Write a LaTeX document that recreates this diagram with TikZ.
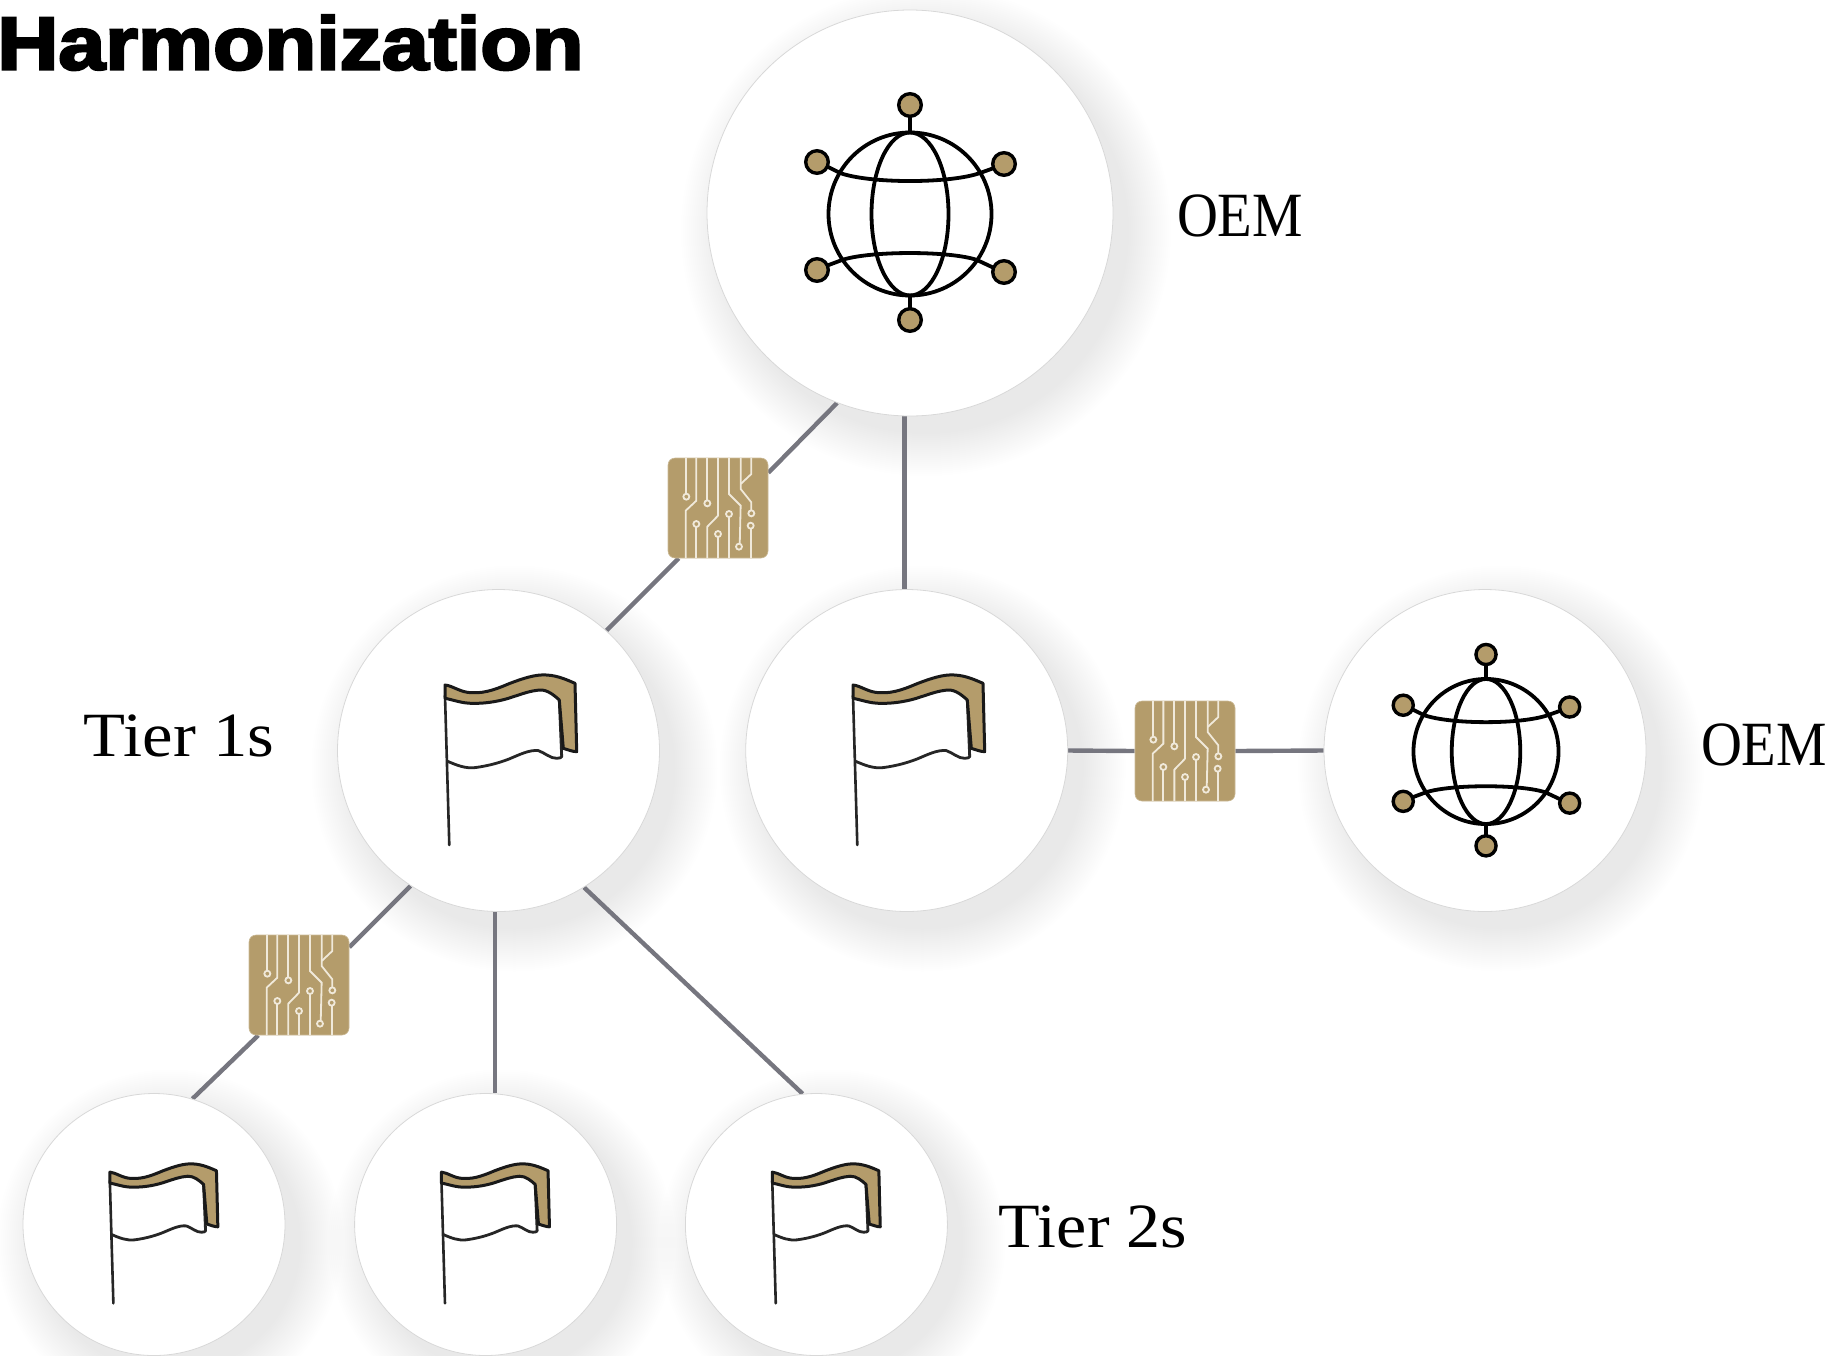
\documentclass[tikz,border=0pt]{standalone}
\usepackage{fontspec}
\setmainfont{Liberation Serif}
\newfontfamily\titlefont{Liberation Sans}[BoldFeatures={FakeBold=3.2}]
\pgfdeclarelayer{shadowlayer}
\pgfdeclarelayer{linelayer}
\pgfsetlayers{shadowlayer,linelayer,main}
\definecolor{tan1}{HTML}{B49C6B}
\definecolor{wire}{HTML}{76767F}
\definecolor{rimc}{HTML}{D8D8D8}
\definecolor{trace}{HTML}{F0E9DA}
\newcommand{\softshade}[3]{%
  \begin{pgfonlayer}{shadowlayer}
    \foreach \i in {1,...,22}{%
      \fill[black,opacity=.0055] ({#1+16},{#2+18}) circle ({#3+44-2*\i});
    }
  \end{pgfonlayer}}
\tikzset{
  disc/.style={circle,draw=rimc,line width=.4pt,fill=white,inner sep=0pt},
  bigdisc/.style={disc,minimum size=203pt},
  middisc/.style={disc,minimum size=161pt},
  smalldisc/.style={disc,minimum size=131pt},
  chipbox/.style={rectangle,rounded corners=3.5pt,fill=tan1,draw=tan1!70!white,line width=.3pt,minimum size=50pt,inner sep=0pt},
  wireline/.style={wire,line width=2.2pt},
  lbl/.style={inner sep=0pt,anchor=base,font=\fontsize{31.5}{36}\selectfont},
  flagicon/.pic={
    \draw[black!85,line width=1.3pt,line cap=round] (-57.5,-60) -- (-53.2,89.4);
    \draw[black!85,line width=1.4pt,line join=round] (-55.8,5.3)
      .. controls (-45,10) and (-37,13) .. (-27.5,12)
      .. controls (-12,10) and (0,6) .. (7.5,3)
      .. controls (17,-1) and (27,-6) .. (35.8,-5)
      .. controls (42,-3) and (48,3) .. (54.2,2.7)
      .. controls (57,2.7) and (59,2) .. (59.2,1)
      -- (56.8,-55.6);
    \draw[black!90,line width=1.5pt,fill=tan1,line join=round] (-57.5,-70.6)
      .. controls (-50,-70) and (-42,-63) .. (-30.8,-62.9)
      .. controls (-16,-62) and (-3,-68) .. (7.5,-72.3)
      .. controls (20,-77) and (33,-81.5) .. (44.2,-80.6)
      .. controls (56,-80) and (66,-75) .. (72.5,-72.3)
      -- (74.2,-3.9)
      .. controls (70,-4) and (65,-6) .. (60.8,-7.3)
      -- (56.8,-55.6)
      .. controls (52,-60) and (45,-66) .. (37.5,-65.6)
      .. controls (28,-65) and (19,-61.5) .. (10.8,-58.9)
      .. controls (0,-55) and (-15,-52) .. (-29.2,-52.3)
      .. controls (-40,-52) and (-50,-56) .. (-57.5,-57.3) -- cycle;
  },
  globeicon/.pic={
    \draw[black,line width=1.9pt] (0,-82) -- (0,-97) (0,81) -- (0,95)
      (-70,-41) -- (-84,-48) (70,-41) -- (84,-46)
      (-68,46) -- (-84,52) (67,46) -- (84,54);
    \foreach \nx/\ny in {0/-109,0/106,-93/-52,94/-50,-93/56,94/58}{
      \draw[black,line width=1.7pt,fill=tan1] (\nx,\ny) circle (11.3);
    }
    \draw[black,line width=1.9pt] (0,0) circle (81.5);
    \draw[black,line width=1.9pt] (0,0) ellipse (38.5 and 81.5);
    \draw[black,line width=1.9pt] (-70,-41) .. controls (-40,-30.3) and (40,-30.3) .. (70,-41);
    \draw[black,line width=1.9pt] (-68,46) .. controls (-40,36.7) and (40,36.7) .. (67,46);
  },
  chipicon/.pic={
    \begin{scope}[trace,line width=.9pt,scale=.3333]
      \draw (-95,-150) -- (-95,-34);
      \draw (-65,-150) -- (-65,-22) -- (-97,8) -- (-97,150);
      \draw (-32,-150) -- (-32,-14);
      \draw (0,-150) -- (0,23) -- (-32,56) -- (-32,150);
      \draw (33,-150) -- (33,-42) -- (68,-7) -- (65,116);
      \draw (68,-150) -- (68,-57) -- (100,-17) -- (100,16);
      \draw (68,-72) -- (100,-102) -- (100,-150);
      \draw (98,53) -- (98,150);
      \draw (-65,48) -- (-65,150);
      \draw (0,78) -- (0,150);
      \draw (33,18) -- (33,150);
      \foreach \cx/\cy in {-95/-34,-32/-14,100/16,98/53,-65/48,0/78,33/18,63/116}{
        \draw[fill=tan1] (\cx,\cy) circle (9);
      }
    \end{scope}
  }
}
\begin{document}
\begin{tikzpicture}[x=.5pt,y=-.5pt]
\useasboundingbox (0,0) rectangle (1840,1355);
\clip (0,0) rectangle (1840,1355);
\softshade{910}{213}{203}
\softshade{498.5}{750.5}{161}
\softshade{906.7}{750.5}{161}
\softshade{1485}{750.5}{161}
\softshade{154}{1224.5}{131}
\softshade{485.6}{1224.5}{131}
\softshade{816.4}{1224.5}{131}
\node[bigdisc] (top) at (910,213) {};
\node[middisc] (m1) at (498.5,750.5) {};
\node[middisc] (m2) at (906.7,750.5) {};
\node[middisc] (oemr) at (1485,750.5) {};
\node[smalldisc] (b1) at (154,1224.5) {};
\node[smalldisc] (b2) at (485.6,1224.5) {};
\node[smalldisc] (b3) at (816.4,1224.5) {};
\node[chipbox] (c1) at (718,508) {};
\node[chipbox] (c2) at (1185,751) {};
\node[chipbox] (c3) at (299,985) {};
\coordinate (v1) at ([xshift=-1.15pt]m2.north);
\coordinate (v2) at ([xshift=-1.75pt]m1.south);
\begin{pgfonlayer}{linelayer}
  \draw[wireline] (top.249.3) -- (c1.35.8);
  \draw[wireline] (c1.232.8) -- (m1.48.2);
  \draw[wireline] (v1 |- top.south) -- (v1);
  \draw[wireline] (m2.east) -- (c2.west);
  \draw[wireline] (c2.east) -- (oemr.west);
  \draw[wireline] (m1.237.1) -- (c3.37);
  \draw[wireline] (c3.231.3) -- (b1.73);
  \draw[wireline] (v2) -- (v2 |- b2.north);
  \draw[wireline] (m1.302.9) -- (b3.96.7);
\end{pgfonlayer}
\pic at (910,214) {globeicon};
\pic[scale=.89] at (1486,751.5) {globeicon};
\pic at (502.5,755.6) {flagicon};
\pic at (910.5,755.6) {flagicon};
\pic[scale=.82] at (157,1230) {flagicon};
\pic[scale=.82] at (488.6,1230) {flagicon};
\pic[scale=.82] at (819.4,1230) {flagicon};
\pic at (718,508) {chipicon};
\pic at (1185,751) {chipicon};
\pic at (299,985) {chipicon};
\node[inner sep=0pt,anchor=base west,xscale=1.125,font=\titlefont\bfseries\fontsize{37.5}{40}\selectfont] (title) at (-3,69.5) {Harmonization};
\node[lbl,xscale=.9] (l1) at (1240,236) {OEM};
\node[lbl,xscale=.9] (l2) at (1764,765) {OEM};
\node[lbl,xscale=1.09] (l3) at (179,756) {Tier 1s};
\node[lbl,xscale=1.08] (l4) at (1093,1247) {Tier 2s};
\end{tikzpicture}
\end{document}
